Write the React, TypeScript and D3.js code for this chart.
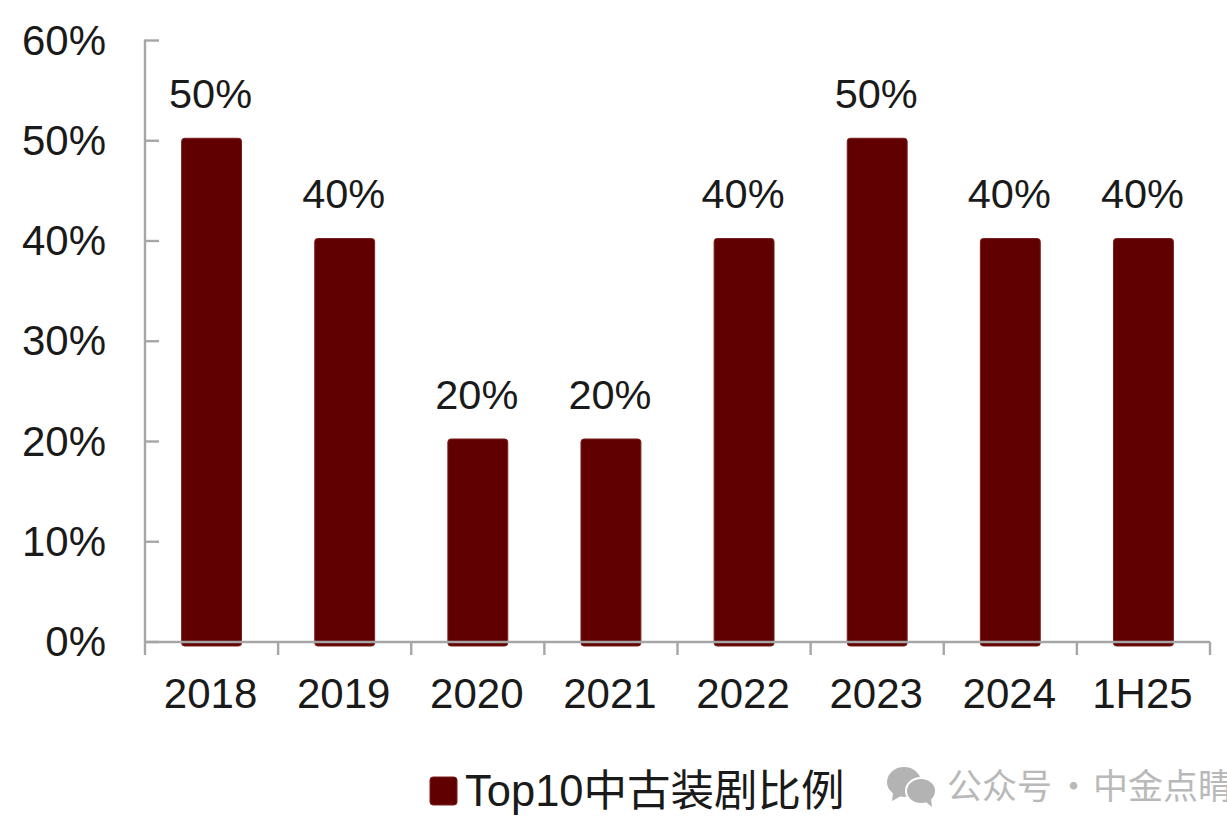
import React from "react";
import * as d3 from "d3";

const categories = ["2018", "2019", "2020", "2021", "2022", "2023", "2024", "1H25"];
const shares = [50, 40, 20, 20, 40, 50, 40, 40];
const yTicks = [0, 10, 20, 30, 40, 50, 60];
const legendLabel = "Top10中古装剧比例";
const watermarkParts = ["公众号", "·", "中金点睛"];

const W = 1227, H = 825;
const LATIN = "'Liberation Sans', Arial, sans-serif";
const CJK = "'Liberation Sans', 'Noto Sans CJK SC', sans-serif";
const BAR = "#600000";
const AXIS = "#a6a6a6";
const INK = "#1a1a1a";

export default function App() {
  const x = d3.scaleBand<string>().domain(categories).range([145, 1210]).paddingInner(0.55).paddingOuter(0.275);
  const y = d3.scaleLinear().domain([0, 60]).range([642, 40.5]);
  const step = x.step();
  const edges = d3.range(categories.length + 1).map((i) => 145 + i * step);
  const base = y(0);
  const lift = 2.5;
  const cx = (c: string) => (x(c) as number) + x.bandwidth() / 2 - 1;
  const wmX = [947, 1056, 1093];
  return (
    <svg width={W} height={H} viewBox={`0 0 ${W} ${H}`}
      style={{ position: "absolute", left: 0, top: 0, background: "#ffffff", display: "block" }}>
      <g>
        {categories.map((c, i) => (
          <rect key={c} x={x(c)} y={y(shares[i]) - lift} width={x.bandwidth()} height={base - y(shares[i]) + lift + 4}
            rx={3} fill={BAR} stroke="#7a1f1f" strokeWidth={1} />
        ))}
      </g>
      <g stroke={AXIS} strokeWidth={2.4} fill="none">
        <line x1={145} x2={145} y1={y(60) - 1} y2={base + 13} />
        <line x1={145} x2={1210} y1={base} y2={base} />
        {yTicks.map((t) => <line key={t} x1={145} x2={159} y1={y(t)} y2={y(t)} />)}
        {edges.slice(1).map((e, i) => <line key={i} x1={e} x2={e} y1={base} y2={base + 13} />)}
      </g>
      <g fontFamily={LATIN} fontSize={42} fill={INK}>
        {yTicks.map((t) => (
          <text key={t} x={106} y={y(t) + 14} textAnchor="end">{t}%</text>
        ))}
        {categories.map((c) => (
          <text key={c} x={cx(c)} y={708} textAnchor="middle">{c}</text>
        ))}
        {categories.map((c, i) => (
          <text key={c} x={cx(c)} y={y(shares[i]) - 33} fontSize={41.5} textAnchor="middle">{shares[i]}%</text>
        ))}
      </g>
      <rect x={430} y={777} width={27} height={28} rx={3} fill={BAR} stroke="#7a1f1f" strokeWidth={1} />
      <text x={465} y={806} fontFamily={CJK} fontSize={43.5} fill={INK}>{legendLabel}</text>
      <g fill="#b3b3b3">
        <ellipse cx={904} cy={782} rx={17} ry={15} />
        <path d="M893 793 L892 801 L901 796 Z" />
        <ellipse cx={921} cy={791} rx={15} ry={13} stroke="#ffffff" strokeWidth={2} />
        <path d="M926 802 L932 807 L931 799 Z" />
      </g>
      <g fontFamily="'Noto Sans CJK SC', sans-serif" fontSize={35} fill="#b9b9b9">
        {watermarkParts.map((p, i) => <text key={p} x={wmX[i]} y={799}>{p}</text>)}
      </g>
    </svg>
  );
}
